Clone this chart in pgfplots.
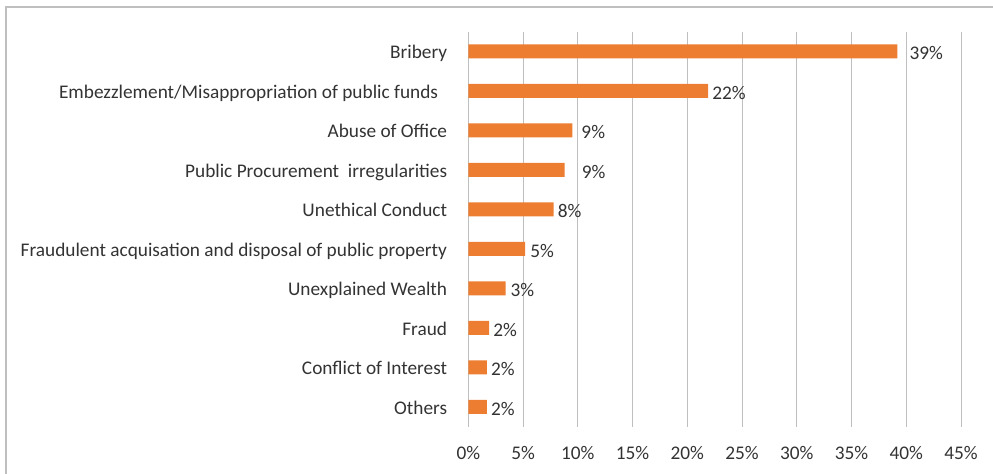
\documentclass[border=0pt]{standalone}
\usepackage{pgfplots}
\pgfplotsset{compat=1.18}
\usepackage{pgfplotstable}
\usepackage{fontspec}
\setmainfont{Carlito}
\definecolor{barorange}{HTML}{ED7D31}
\definecolor{txt}{HTML}{333333}
\definecolor{gridgray}{HTML}{BFBFBF}

% y = row from top, x = share in %, lab = printed value, dx = label gap
\pgfplotstableread{
y x lab dx
0 39.2 39 12
1 21.9 22 4
2 9.5 9 9
3 8.8 9 17
4 7.8 8 4
5 5.2 5 5
6 3.4 3 5
7 1.9 2 4
8 1.7 2 4
9 1.7 2 4
}\corruption

\begin{document}
\begin{tikzpicture}
\useasboundingbox (0,0) rectangle (993bp,474bp);
\draw[gridgray, line width=1.3bp] (6bp,-2bp) -- (6bp,467bp) -- (995bp,467bp);
\begin{axis}[
    at={(468.3bp,47.3bp)}, anchor=south west,
    scale only axis,
    width=492.7bp, height=395bp,
    xbar, bar width=14bp,
    xmin=0, xmax=45,
    ymin=-0.5, ymax=9.5,
    y dir=reverse,
    clip=false,
    xtick={0,5,...,45},
    xticklabel={\pgfmathprintnumber{\tick}\%},
    ytick={0,...,9},
    yticklabels={Bribery,
        Embezzlement/Misappropriation of public funds\makebox[9bp]{},
        Abuse of Office,
        Public Procurement\ \ irregularities,
        Unethical Conduct,
        Fraudulent acquisation and disposal of public property,
        Unexplained Wealth,
        Fraud,
        Conflict of Interest,
        Others},
    major tick length=0pt,
    axis line style={draw=none},
    xmajorgrids,
    grid style={gridgray, line width=1bp},
    font=\fontsize{19.3bp}{23bp}\selectfont,
    /pgf/number format/assume math mode=true,
    tick label style={txt, inner sep=0pt},
    yticklabel style={anchor=base east, xshift=-21bp, yshift=-7.3bp},
    xticklabel style={anchor=north, yshift=-19bp},
    point meta=explicit,
    nodes near coords={\pgfmathprintnumber{\pgfplotspointmeta}\%},
    visualization depends on={\thisrow{dx} \as \dx},
    every node near coord/.append style={txt, anchor=base west, inner sep=0pt,
        xshift=\dx pt, yshift=-8.5bp, font=\fontsize{19.3bp}{23bp}\selectfont},
]
\addplot[fill=barorange, draw=none] table[x=x, y=y, meta=lab] {\corruption};
\end{axis}
\end{tikzpicture}
\end{document}
